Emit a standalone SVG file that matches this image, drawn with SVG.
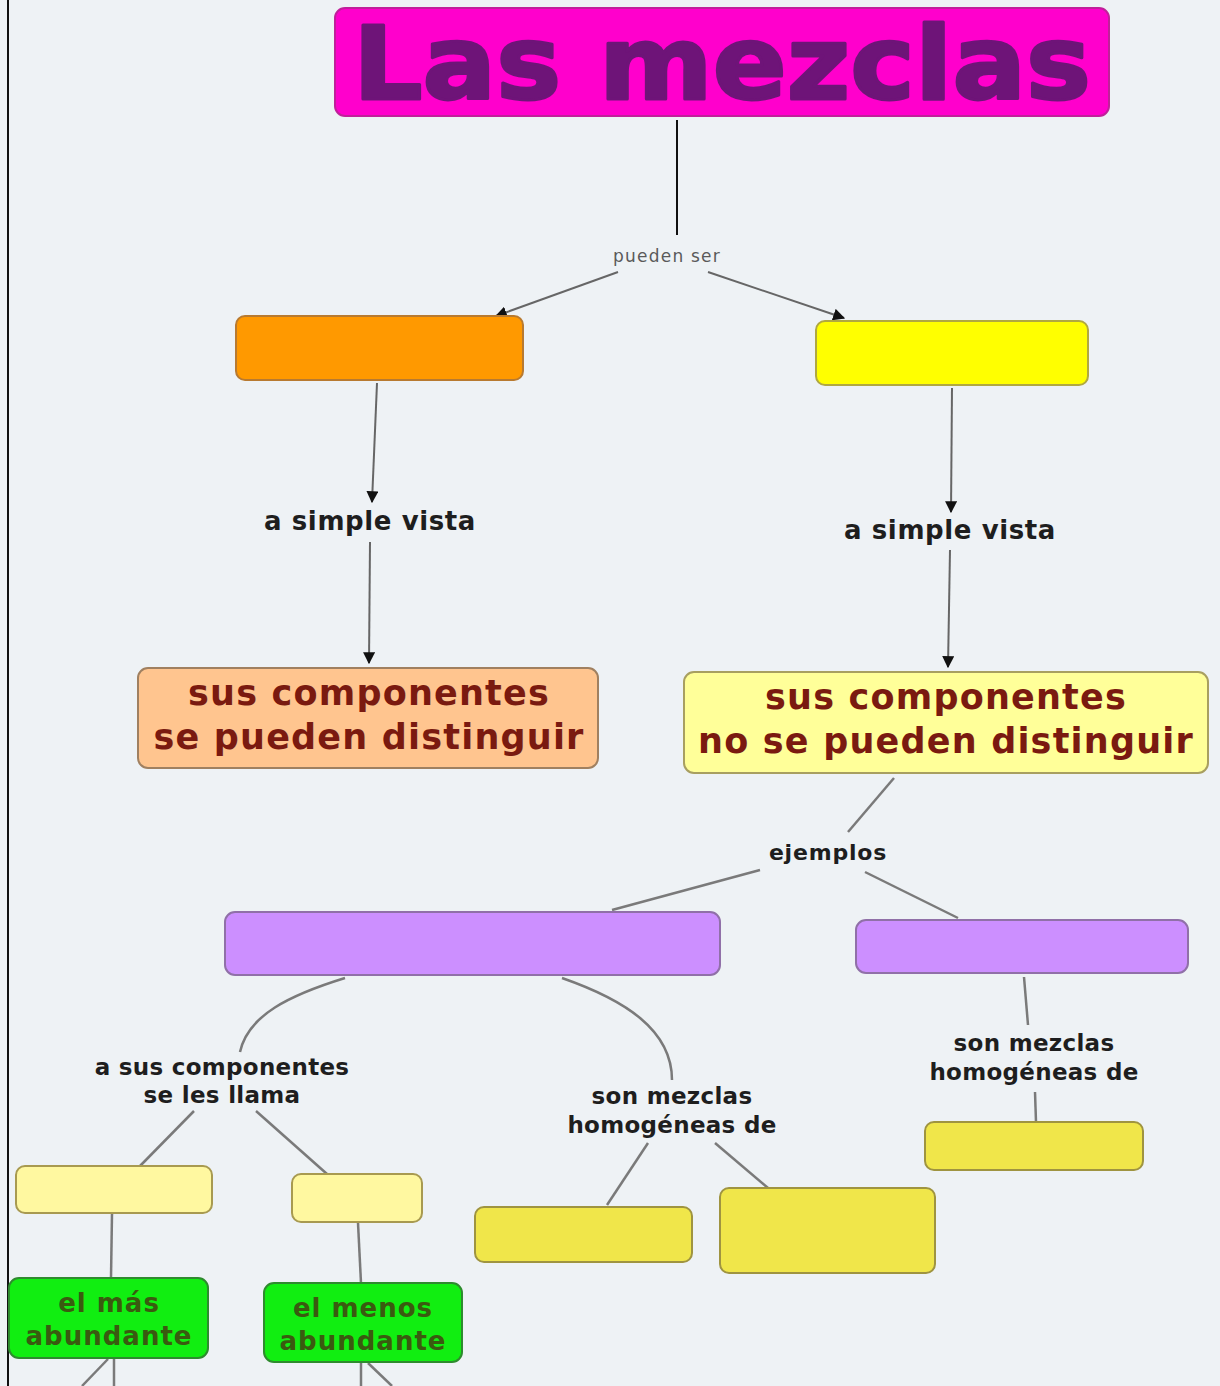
<svg xmlns="http://www.w3.org/2000/svg" width="1220" height="1386" viewBox="0 0 1220 1386">
<style>
.lbl{font-family:"DejaVu Sans",Verdana,sans-serif;font-weight:bold;fill:#1e1e1e;text-anchor:middle}
.big{font-family:"DejaVu Sans",Verdana,sans-serif;font-weight:bold;fill:#7a1a10;text-anchor:middle;font-size:35px;letter-spacing:1.2px}
.grn{font-family:"DejaVu Sans",Verdana,sans-serif;font-weight:bold;fill:#3a5a10;text-anchor:middle;font-size:26px;letter-spacing:1px}
.ln{stroke:#7a7a7a;stroke-width:2.5;fill:none}
.ar{stroke:#666;stroke-width:2;fill:none;marker-end:url(#ah)}
</style>
<defs>
<marker id="ah" viewBox="0 0 10 10" refX="9" refY="5" markerWidth="6" markerHeight="6" orient="auto" markerUnits="strokeWidth">
<path d="M0,0 L10,5 L0,10 z" fill="#111"/>
</marker>
</defs>
<rect x="0" y="0" width="1220" height="1386" fill="#eef2f5"/>
<line x1="8" y1="0" x2="8" y2="1386" stroke="#111" stroke-width="2"/>

<g id="connectors">
<line x1="677" y1="120" x2="677" y2="235" stroke="#111" stroke-width="2"/>
<text x="667" y="262" font-family="'DejaVu Sans',sans-serif" font-size="17" fill="#5a5a5a" text-anchor="middle" letter-spacing="1.2">pueden ser</text>
<line class="ar" x1="618" y1="272" x2="496" y2="316" stroke-width="2.5"/>
<line class="ar" x1="708" y1="272" x2="844" y2="318" stroke-width="2.5"/>
<line class="ar" x1="377" y1="383" x2="372" y2="502"/>
<text class="lbl" x="370" y="530" font-size="26" letter-spacing="0.6">a simple vista</text>
<line class="ar" x1="370" y1="542" x2="369" y2="663"/>
<line class="ar" x1="952" y1="388" x2="951" y2="512"/>
<text class="lbl" x="950" y="539" font-size="26" letter-spacing="0.6">a simple vista</text>
<line class="ar" x1="950" y1="550" x2="948" y2="667"/>
<line class="ln" x1="894" y1="778" x2="848" y2="832"/>
<text class="lbl" x="828" y="860" font-size="22" letter-spacing="0.8">ejemplos</text>
<line class="ln" x1="760" y1="870" x2="612" y2="910"/>
<line class="ln" x1="865" y1="872" x2="958" y2="918"/>
<path class="ln" d="M345,978 C290,995 248,1015 240,1052"/>
<path class="ln" d="M562,978 C625,1000 672,1030 672,1080"/>
<text class="lbl" x="222" y="1075" font-size="23" letter-spacing="0.3">a sus componentes</text>
<text class="lbl" x="222" y="1103" font-size="23" letter-spacing="0.3">se les llama</text>
<text class="lbl" x="672" y="1104" font-size="23" letter-spacing="0.3">son mezclas</text>
<text class="lbl" x="672" y="1133" font-size="23" letter-spacing="0.3">homogéneas de</text>
<line class="ln" x1="1024" y1="977" x2="1028" y2="1025"/>
<text class="lbl" x="1034" y="1051" font-size="23" letter-spacing="0.3">son mezclas</text>
<text class="lbl" x="1034" y="1080" font-size="23" letter-spacing="0.3">homogéneas de</text>
<line class="ln" x1="1035" y1="1092" x2="1036" y2="1122"/>
<line class="ln" x1="648" y1="1143" x2="607" y2="1205"/>
<line class="ln" x1="715" y1="1143" x2="768" y2="1188"/>
<line class="ln" x1="194" y1="1111" x2="140" y2="1166"/>
<line class="ln" x1="256" y1="1111" x2="327" y2="1174"/>
<line class="ln" x1="112" y1="1214" x2="111" y2="1278"/>
<line class="ln" x1="358" y1="1223" x2="361" y2="1283"/>
<line class="ln" x1="108" y1="1359" x2="82" y2="1386"/>
<line class="ln" x1="114" y1="1359" x2="114" y2="1386"/>
<line class="ln" x1="361" y1="1363" x2="361" y2="1386"/>
<line class="ln" x1="368" y1="1363" x2="392" y2="1386"/>
</g>

<g id="title">
<rect x="335" y="8" width="774" height="108" rx="10" fill="#ff00cc" stroke="#c0209a" stroke-width="2"/>
<text x="722" y="99" font-family="'DejaVu Sans',Verdana,sans-serif" font-weight="bold" font-size="102" fill="#6e1478" stroke="#6e1478" stroke-width="3" stroke-linejoin="round" text-anchor="middle" textLength="738" lengthAdjust="spacingAndGlyphs">Las mezclas</text>
</g>
<g id="orange">
<rect x="236" y="316" width="287" height="64" rx="9" fill="#ff9900" stroke="#b87a30" stroke-width="2"/>
</g>
<g id="yellow">
<rect x="816" y="321" width="272" height="64" rx="9" fill="#ffff00" stroke="#b0a840" stroke-width="2"/>
</g>
<g id="distinguish">
<rect x="138" y="668" width="460" height="100" rx="10" fill="#ffc58f" stroke="#a08060" stroke-width="2"/>
<text class="big" x="369" y="705">sus componentes</text>
<text class="big" x="369" y="749">se pueden distinguir</text>
</g>
<g id="nodistinguish">
<rect x="684" y="672" width="524" height="101" rx="10" fill="#ffff99" stroke="#a89f60" stroke-width="2"/>
<text class="big" x="946" y="709">sus componentes</text>
<text class="big" x="946" y="753">no se pueden distinguir</text>
</g>
<g id="purple-left">
<rect x="225" y="912" width="495" height="63" rx="10" fill="#cc8fff" stroke="#9070a8" stroke-width="2"/>
</g>
<g id="purple-right">
<rect x="856" y="920" width="332" height="53" rx="10" fill="#cc8fff" stroke="#9070a8" stroke-width="2"/>
</g>
<g id="yellow-right">
<rect x="925" y="1122" width="218" height="48" rx="9" fill="#f0e64a" stroke="#9f9440" stroke-width="2"/>
</g>
<g id="yellow-mid1">
<rect x="475" y="1207" width="217" height="55" rx="9" fill="#f0e64a" stroke="#9f9440" stroke-width="2"/>
</g>
<g id="yellow-mid2">
<rect x="720" y="1188" width="215" height="85" rx="9" fill="#f0e64a" stroke="#9f9440" stroke-width="2"/>
</g>
<g id="pale1">
<rect x="16" y="1166" width="196" height="47" rx="9" fill="#fff8a0" stroke="#a89a50" stroke-width="2"/>
</g>
<g id="pale2">
<rect x="292" y="1174" width="130" height="48" rx="9" fill="#fff8a0" stroke="#a89a50" stroke-width="2"/>
</g>
<g id="green1">
<rect x="9" y="1278" width="199" height="80" rx="10" fill="#11ee11" stroke="#2e8b2e" stroke-width="2"/>
<text class="grn" x="109" y="1312">el más</text>
<text class="grn" x="109" y="1345">abundante</text>
</g>
<g id="green2">
<rect x="264" y="1283" width="198" height="79" rx="10" fill="#11ee11" stroke="#2e8b2e" stroke-width="2"/>
<text class="grn" x="363" y="1317">el menos</text>
<text class="grn" x="363" y="1350">abundante</text>
</g>
</svg>
